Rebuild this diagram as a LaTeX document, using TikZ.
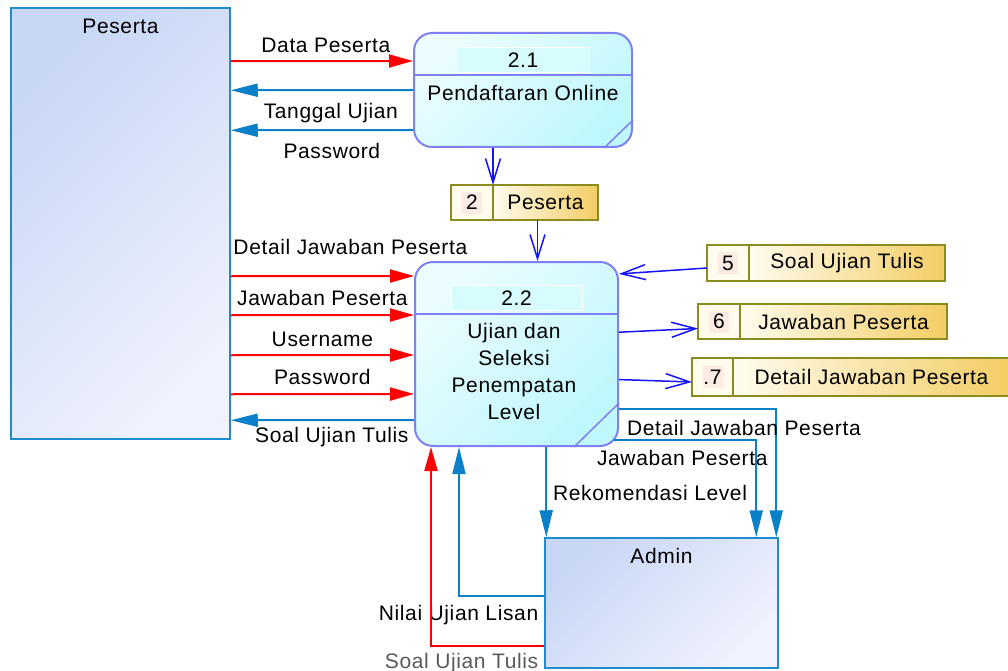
\documentclass[tikz,border=0pt]{standalone}
\usepackage{fontspec}
\setmainfont{Liberation Sans}[LetterSpace=3]
\usetikzlibrary{positioning, arrows.meta}

\definecolor{entA}{RGB}{200,215,245}
\definecolor{entB}{RGB}{240,242,253}
\definecolor{entborder}{RGB}{30,140,205}
\definecolor{procA}{RGB}{236,253,255}
\definecolor{procB}{RGB}{190,247,252}
\definecolor{procborder}{RGB}{128,128,245}
\definecolor{headfill}{RGB}{215,252,253}
\definecolor{storeborder}{RGB}{140,140,30}
\definecolor{storelight}{RGB}{255,252,238}
\definecolor{storegold}{RGB}{243,205,100}
\definecolor{numpink}{RGB}{253,236,228}
\definecolor{flowblue}{RGB}{10,128,200}
\definecolor{storeblue}{RGB}{20,20,255}
\definecolor{flowred}{RGB}{255,0,0}

\begin{document}
\begin{tikzpicture}[x=1pt, y=-1pt, font=\fontsize{21}{27}\selectfont,
  entity/.style={draw=entborder, line width=1.5pt, top color=entA, bottom color=entB,
    shading angle=45, inner sep=0pt},
  process/.style={draw=procborder, line width=2pt, rounded corners=18pt,
    top color=procA, bottom color=procB, shading angle=45, inner sep=0pt},
  prochead/.style={fill=headfill, draw=white, line width=1pt, minimum width=132pt,
    minimum height=25pt, inner sep=0pt},
  procline/.style={draw=procborder, line width=1.5pt},
  storenum/.style={draw=storeborder, line width=1.5pt, fill=storelight, minimum width=42pt,
    inner sep=0pt, outer sep=0pt,
    path picture={\fill[numpink] ([xshift=-10pt,yshift=-11pt]path picture bounding box.center)
      rectangle ([xshift=10pt,yshift=11pt]path picture bounding box.center);}},
  storebox/.style={draw=storeborder, line width=1.5pt, left color=storelight, right color=storegold,
    inner sep=0pt, outer sep=0pt},
  lbl/.style={inner sep=0pt, text height=15pt, text depth=0pt, text=black},
  dataflow/.style={color=flowred, line width=2pt, -{Triangle[length=24pt, width=13pt]}},
  backflow/.style={color=flowblue, line width=2pt, -{Triangle[length=27pt, width=13pt]}},
  storeflow/.style={color=storeblue, line width=1.5pt, -{Straight Barb[length=24pt, width=15pt]}}]

\useasboundingbox (0,0) rectangle (1008,671);

% external entities
\node[entity, minimum width=219pt, minimum height=431pt] (peserta) at (120.5,223.5) {};
\node[lbl, below=11.5pt of peserta.north] (pesertaT) {Peserta};
\node[entity, minimum width=233pt, minimum height=130pt] (admin) at (661.5,603) {};
\node[lbl, below=11.5pt of admin.north] (adminT) {Admin};

% process 2.1
\node[process, minimum width=218pt, minimum height=114pt] (p21) at (523,90) {};
\node[prochead, below=15pt of p21.north] (p21h) {2.1};
\node[lbl] (p21t) at ([yshift=-61pt]p21.north) {Pendaftaran Online};
\draw[procline] ([yshift=-43pt]p21.north west) -- ([yshift=-43pt]p21.north east);
\draw[procline] ([yshift=28pt]p21.south east) -- ([xshift=-29pt]p21.south east);

% process 2.2
\node[process, minimum width=203pt, minimum height=184pt] (p22) at (516.5,354) {};
\node[prochead, minimum width=131pt, below=24pt of p22.north] (p22h) {2.2};
\node[anchor=north, align=center, inner sep=0pt] (p22t) at ([xshift=-2.5pt,yshift=-62.5pt]p22.north)
  {Ujian dan\\Seleksi\\Penempatan\\Level};
\draw[procline] ([yshift=-53pt]p22.north west) -- ([yshift=-53pt]p22.north east);
\draw[procline] ([yshift=44pt]p22.south east) -- ([xshift=-45pt]p22.south east);

% data stores
\node[storenum, minimum height=35pt] (s2n) at (472,202.5) {2};
\node[storebox, minimum width=105pt, minimum height=35pt, right=0pt of s2n] (s2) {Peserta};
\node[storenum, minimum height=36pt] (s5n) at (728,263) {5};
\node[storebox, minimum width=196pt, minimum height=36pt, right=0pt of s5n] (s5) {Soal Ujian Tulis};
\node[storenum, minimum height=35pt] (s6n) at (719,321.5) {6};
\node[storebox, minimum width=207pt, minimum height=35pt, right=0pt of s6n] (s6) {Jawaban Peserta};
\node[storenum, minimum width=41pt, minimum height=38pt] (s7n) at (712.5,377) {.7};
\node[storebox, minimum width=277pt, minimum height=38pt, right=0pt of s7n] (s7) {Detail Jawaban Peserta};

% flows Peserta <-> 2.1
\path[dataflow]
  ([yshift=-54pt]peserta.north east) edge node[lbl, above=7.5pt, xshift=4pt] (fDataPeserta) {Data Peserta} ([yshift=-29pt]p21.north west);
\path[backflow]
  ([yshift=-58pt]p21.north west) edge node[lbl, below=12.5pt, xshift=9pt] (fTanggal) {Tanggal Ujian} ([yshift=-83pt]peserta.north east)
  ([yshift=-98pt]p21.north west) edge node[lbl, below=12.5pt, xshift=10pt] (fPassword1) {Password} ([yshift=-123pt]peserta.north east);

% flows Peserta <-> 2.2
\path[dataflow]
  ([yshift=-269pt]peserta.north east) edge node[lbl, above=20.5pt, xshift=28pt] (fDetail1) {Detail Jawaban Peserta} ([yshift=-15pt]p22.north west)
  ([yshift=-308pt]peserta.north east) edge node[lbl, above=8.5pt] (fJawaban1) {Jawaban Peserta} ([yshift=-54pt]p22.north west)
  ([yshift=-348pt]peserta.north east) edge node[lbl, above=7.5pt] (fUsername) {Username} ([yshift=-94pt]p22.north west)
  ([yshift=-387pt]peserta.north east) edge node[lbl, above=8.5pt] (fPassword2) {Password} ([yshift=-133pt]p22.north west);
\path[backflow]
  ([yshift=-159pt]p22.north west) edge node[lbl, below=6.5pt, xshift=9.5pt] (fSoal1) {Soal Ujian Tulis} ([yshift=-413pt]peserta.north east);

% flows with the stores
\path[storeflow]
  (p21.south -| s2n.east) edge (s2n.north east)
  ([xshift=-8pt]s2.south) edge ([xshift=21pt]p22.north)
  ([yshift=-5pt]s5n.west) edge (p22.38)
  (p22.12) edge ([yshift=-7pt]s6n.west)
  (p22.-14) edge ([yshift=-5pt]s7n.west);

% flows 2.2 <-> Admin
\draw[backflow] ([xshift=132pt]p22.south west) -- node[lbl, pos=0.51, right=6pt] (fRekom) {Rekomendasi Level} ([xshift=2pt]admin.north west);
\draw[backflow] ([xshift=-5pt,yshift=-86pt]p22.east) -| node[lbl, pos=0.24, below=9.5pt] (fJawaban2) {Jawaban Peserta} ([xshift=212pt]admin.north west);
\draw[backflow] ([yshift=-55pt]p22.east) -| node[lbl, pos=0, anchor=north west, xshift=7pt, yshift=-10.5pt] (fDetail2) {Detail Jawaban Peserta} ([xshift=232pt]admin.north west);
\draw[backflow] ([yshift=7pt]admin.west) -| node[lbl, pos=0, anchor=north east, xshift=-5pt, yshift=-8.5pt] (fNilai) {Nilai Ujian Lisan} ([xshift=45pt]p22.south west);
\draw[dataflow] ([yshift=-43pt]admin.west) -| node[lbl, pos=0, anchor=north east, xshift=-5pt, yshift=-6.5pt, text=black!65] (fSoal2) {Soal Ujian Tulis} ([xshift=17pt]p22.south west);
\end{tikzpicture}
\end{document}
